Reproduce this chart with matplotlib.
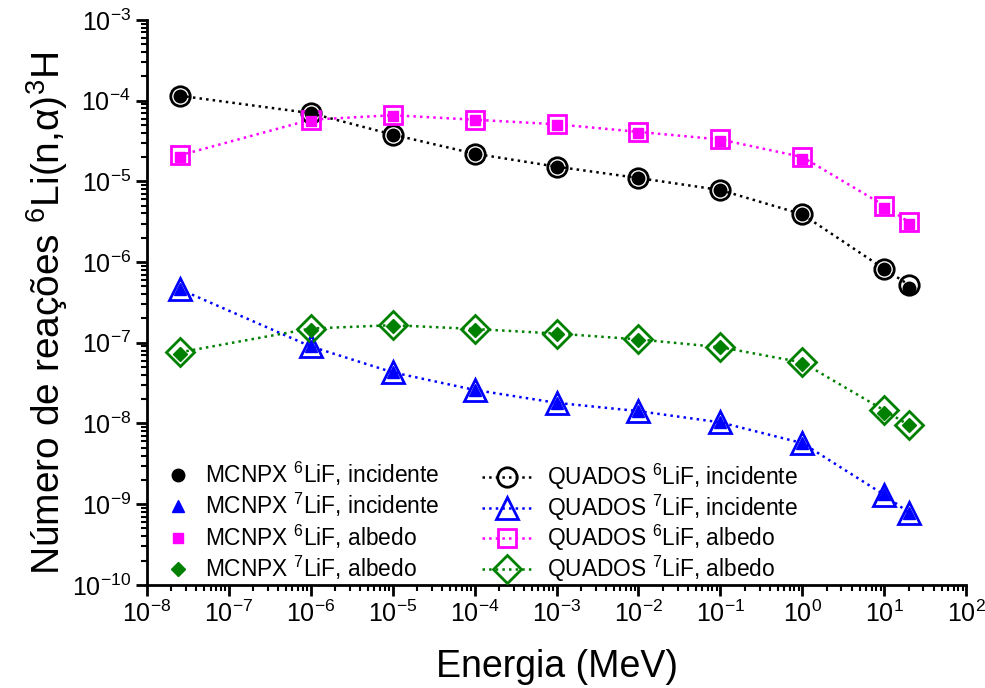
import numpy as np
import matplotlib
matplotlib.use("Agg")
import matplotlib.pyplot as plt
from matplotlib.ticker import LogLocator, LogFormatterMathtext, NullFormatter

# Fonts (Arial-like)
plt.rcParams['font.family'] = ['Liberation Sans', 'DejaVu Sans']
plt.rcParams['mathtext.fontset'] = 'custom'
plt.rcParams['mathtext.rm'] = 'Liberation Sans'
plt.rcParams['mathtext.it'] = 'Liberation Sans:italic'
plt.rcParams['mathtext.bf'] = 'Liberation Sans:bold'

# Data
energy = [2.53e-8, 1e-6, 1e-5, 1e-4, 1e-3, 1e-2, 1e-1, 1e0, 1e1, 2e1]

quados_6lif_inc = [1.15e-4, 7.0e-5, 3.8e-5, 2.2e-5, 1.52e-5, 1.1e-5, 7.8e-6, 3.9e-6, 8.2e-7, 5.2e-7]
mcnpx_6lif_inc = [1.15e-4, 7.0e-5, 3.8e-5, 2.2e-5, 1.52e-5, 1.1e-5, 7.8e-6, 3.9e-6, 8.2e-7, 4.7e-7]

quados_7lif_inc = [4.6e-7, 9.0e-8, 4.3e-8, 2.6e-8, 1.8e-8, 1.42e-8, 1.03e-8, 5.7e-9, 1.3e-9, 7.8e-10]
mcnpx_7lif_inc = [4.6e-7, 9.0e-8, 4.3e-8, 2.6e-8, 1.8e-8, 1.42e-8, 1.03e-8, 5.7e-9, 1.35e-9, 7.8e-10]

quados_6lif_alb = [2.1e-5, 5.8e-5, 6.6e-5, 5.8e-5, 5.1e-5, 4.1e-5, 3.3e-5, 2.0e-5, 5.0e-6, 3.1e-6]
mcnpx_6lif_alb = [2.0e-5, 5.6e-5, 6.5e-5, 5.7e-5, 5.0e-5, 4.0e-5, 3.2e-5, 1.9e-5, 4.7e-6, 3.0e-6]

quados_7lif_alb = [7.6e-8, 1.5e-7, 1.65e-7, 1.48e-7, 1.3e-7, 1.1e-7, 8.8e-8, 5.7e-8, 1.45e-8, 9.5e-9]
mcnpx_7lif_alb = [7.3e-8, 1.45e-7, 1.62e-7, 1.45e-7, 1.27e-7, 1.07e-7, 8.8e-8, 5.4e-8, 1.35e-8, 9.5e-9]

fig = plt.figure(figsize=(9.85, 6.88), dpi=100)
ax = fig.add_axes([0.149, 0.150, 0.832, 0.821])

# MCNPX (filled markers)
m1, = ax.plot(energy, mcnpx_6lif_inc, 'o', color='black', ms=9, zorder=4, label='MCNPX $^{6}$LiF, incidente')
m2, = ax.plot(energy, mcnpx_7lif_inc, '^', color='blue', ms=9, zorder=4, label='MCNPX $^{7}$LiF, incidente')
m3, = ax.plot(energy, mcnpx_6lif_alb, 's', color='magenta', ms=7.5, zorder=4, label='MCNPX $^{6}$LiF, albedo')
m4, = ax.plot(energy, mcnpx_7lif_alb, 'D', color='green', ms=7.5, zorder=4, label='MCNPX $^{7}$LiF, albedo')

# QUADOS (open markers with dotted lines)
q1, = ax.plot(energy, quados_6lif_inc, ':o', color='black', ms=14, mfc='none', mew=2, lw=1.8, zorder=3,
              label='QUADOS $^{6}$LiF, incidente')
q2, = ax.plot(energy, quados_7lif_inc, ':^', color='blue', ms=16, mfc='none', mew=2, lw=1.8, zorder=3,
              label='QUADOS $^{7}$LiF, incidente')
q3, = ax.plot(energy, quados_6lif_alb, ':s', color='magenta', ms=13, mfc='none', mew=2, lw=1.8, zorder=3,
              label='QUADOS $^{6}$LiF, albedo')
q4, = ax.plot(energy, quados_7lif_alb, ':D', color='green', ms=14, mfc='none', mew=2, lw=1.8, zorder=3,
              label='QUADOS $^{7}$LiF, albedo')

ax.set_xscale('log')
ax.set_yscale('log')
ax.set_xlim(1e-8, 1e2)
ax.set_ylim(1e-10, 1e-3)

ax.xaxis.set_major_locator(LogLocator(base=10, numticks=20))
ax.yaxis.set_major_locator(LogLocator(base=10, numticks=20))
ax.xaxis.set_minor_locator(LogLocator(base=10, subs=np.arange(2, 10), numticks=20))
ax.yaxis.set_minor_locator(LogLocator(base=10, subs=np.arange(2, 10), numticks=20))
ax.xaxis.set_major_formatter(LogFormatterMathtext())
ax.yaxis.set_major_formatter(LogFormatterMathtext())
ax.xaxis.set_minor_formatter(NullFormatter())
ax.yaxis.set_minor_formatter(NullFormatter())

ax.spines['top'].set_visible(False)
ax.spines['right'].set_visible(False)
ax.spines['left'].set_linewidth(2)
ax.spines['bottom'].set_linewidth(2)
ax.tick_params(which='major', direction='out', length=8, width=2, labelsize=18)
ax.tick_params(which='minor', direction='out', length=4, width=1.5)

ax.set_xlabel('Energia (MeV)', fontsize=27, labelpad=16)
ax.set_ylabel('Número de reações $^{6}$Li(n,α)$^{3}$H', fontsize=28)
ax.yaxis.set_label_coords(-0.094, 0.48)

# two legend columns, as in the original (markers only / line + marker)
leg1 = ax.legend(handles=[m1, m2, m3, m4], loc='lower left', bbox_to_anchor=(0.024, 0.005),
                 frameon=False, fontsize=16.4, handlelength=1.0, handletextpad=0.68,
                 labelspacing=0.14, borderpad=0, borderaxespad=0)
ax.add_artist(leg1)
leg2 = ax.legend(handles=[q1, q2, q3, q4], loc='lower left', bbox_to_anchor=(0.409, 0.0015),
                 frameon=False, fontsize=16.4, handlelength=2.2, handletextpad=0.66,
                 labelspacing=0.02, borderpad=0, borderaxespad=0)

plt.savefig('out.png', dpi=100)
